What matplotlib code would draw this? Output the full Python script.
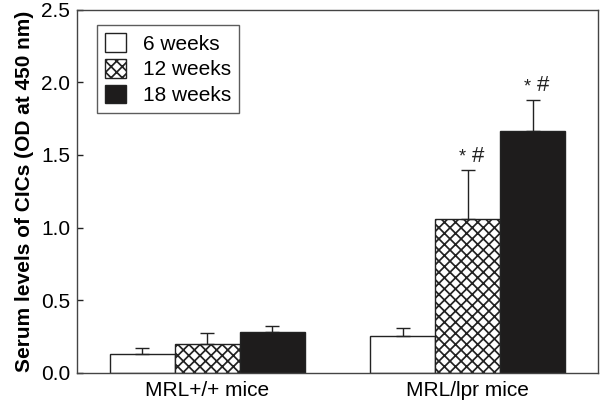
import matplotlib
matplotlib.use("Agg")
import matplotlib.pyplot as plt
import numpy as np
from matplotlib.patches import Patch

groups = ["MRL+/+ mice", "MRL/lpr mice"]
series = ["6 weeks", "12 weeks", "18 weeks"]
means = {
    "6 weeks": [0.13, 0.253],
    "12 weeks": [0.20, 1.06],
    "18 weeks": [0.285, 1.667],
}
errs = {
    "6 weeks": [0.04, 0.057],
    "12 weeks": [0.076, 0.335],
    "18 weeks": [0.041, 0.213],
}
annot = {("12 weeks", 1): "* #", ("18 weeks", 1): "* #"}
yticks = [0.0, 0.5, 1.0, 1.5, 2.0, 2.5]

plt.rcParams['font.family'] = ['Liberation Sans', 'DejaVu Sans']
plt.rcParams['hatch.linewidth'] = 1.25

fig = plt.figure(figsize=(6.0, 4.04), dpi=100)
ax = fig.add_axes([77/600, 1-373/404, (598-77)/600, (373-9.5)/404])

styles = {
    "6 weeks": dict(facecolor="white", hatch=None),
    "12 weeks": dict(facecolor="white", hatch="xxx"),
    "18 weeks": dict(facecolor="#1e1c1c", hatch=None),
}
w = 0.25
x = np.arange(len(groups))
edge = "#222222"
for i, s in enumerate(series):
    pos = x + (i - 1) * w
    ax.bar(pos, means[s], width=w, edgecolor=edge, linewidth=1.0, **styles[s])
    ax.errorbar(pos, means[s], yerr=[np.zeros(len(groups)), errs[s]], fmt="none",
                ecolor=edge, elinewidth=1.0, capsize=5, capthick=1.0)
    for j in range(len(groups)):
        if (s, j) in annot:
            top = means[s][j] + errs[s][j]
            ax.text(pos[j] - 0.023, top + 0.03, "*", ha="center", va="bottom", fontsize=13, color=edge)
            ax.text(pos[j] + 0.038, top + 0.025, "#", ha="center", va="bottom", fontsize=16, color=edge)

ax.set_xlim(-0.5, 1.5)
ax.set_ylim(0, 2.5)
ax.set_yticks(yticks)
ax.set_yticklabels([f"{t:.1f}" for t in yticks], fontsize=15)
ax.set_xticks(x)
ax.set_xticklabels(groups, fontsize=15)
ax.tick_params(axis="x", length=0, pad=6)
ax.tick_params(axis="y", direction="in", length=4, width=1, color=edge, pad=5)
for sp in ax.spines.values():
    sp.set_color("#444444")
    sp.set_linewidth(1.0)
ax.set_ylabel("Serum levels of CICs (OD at 450 nm)", fontsize=15, fontweight="bold", labelpad=5)

handles = [Patch(edgecolor=edge, linewidth=1.0, **styles[s]) for s in series]
leg = ax.legend(handles, series, loc="upper left", bbox_to_anchor=(20/521, 1-15.5/363.5),
                fontsize=15, frameon=True, fancybox=False, edgecolor="#333333",
                handlelength=1.0, handleheight=1.0, borderpad=0.4, labelspacing=0.25,
                handletextpad=0.8, borderaxespad=0)
leg.get_frame().set_linewidth(1.0)

fig.savefig("out.png", dpi=100)
